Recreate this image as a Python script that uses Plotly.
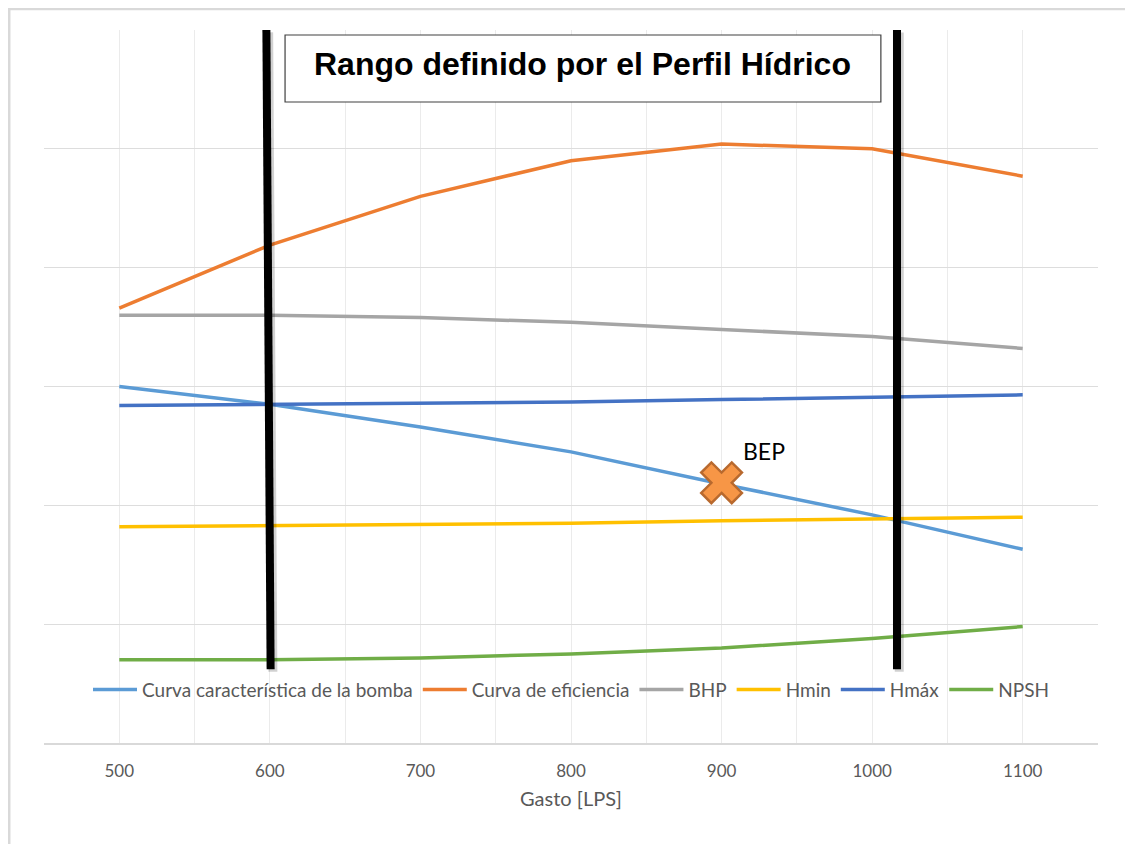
import plotly.graph_objects as go

# Datos
gasto = [500, 600, 700, 800, 900, 1000, 1100]
curva_bomba = [3.00, 2.85, 2.66, 2.45, 2.18, 1.92, 1.63]
curva_eficiencia = [3.66, 4.19, 4.60, 4.90, 5.04, 5.00, 4.77]
bhp = [3.60, 3.60, 3.58, 3.54, 3.48, 3.42, 3.32]
hmin = [1.82, 1.83, 1.84, 1.85, 1.87, 1.885, 1.90]
hmax = [2.84, 2.85, 2.86, 2.87, 2.89, 2.91, 2.93]
npsh = [0.70, 0.70, 0.715, 0.75, 0.80, 0.88, 0.98]

bep_x = [900]
bep_y = [2.19]

# límites del perfil hídrico (líneas negras)
rango_izq_x = [597.7, 600.5]
rango_der_x = [1016.5, 1016.5]
rango_y = [6.0, 0.62]

series = [
    ("Curva característica de la bomba", curva_bomba, "#5B9BD5"),
    ("Curva de eficiencia", curva_eficiencia, "#ED7D31"),
    ("BHP", bhp, "#A5A5A5"),
    ("Hmin", hmin, "#FFC000"),
    ("Hmáx", hmax, "#4472C4"),
    ("NPSH", npsh, "#70AD47"),
]

FONT = "Lato, 'Open Sans', sans-serif"

fig = go.Figure()

for name, vals, color in series:
    fig.add_trace(go.Scatter(
        x=gasto, y=vals, mode="lines", name=name,
        line=dict(color=color, width=3.5)))

for xs in (rango_izq_x, rango_der_x):
    fig.add_trace(go.Scatter(
        x=[x + 1.5 for x in xs], y=[y - 0.02 for y in rango_y], mode="lines",
        line=dict(color="rgba(0,0,0,0.18)", width=9),
        showlegend=False, hoverinfo="skip"))
    fig.add_trace(go.Scatter(
        x=xs, y=rango_y, mode="lines",
        line=dict(color="black", width=8),
        showlegend=False, hoverinfo="skip"))

fig.add_trace(go.Scatter(
    x=bep_x, y=bep_y, mode="markers", showlegend=False,
    marker=dict(symbol="x", size=36, color="#F79646",
                line=dict(color="#B8692E", width=2.5))))

fig.add_annotation(
    x=bep_x[0], y=bep_y[0], text="BEP", showarrow=False,
    xanchor="left", yanchor="bottom", xshift=19, yshift=16,
    font=dict(family=FONT, size=23, color="black"))

# recuadro del título
fig.add_shape(type="rect", xref="paper", yref="paper",
              x0=0.2287, x1=0.794, y0=0.899, y1=0.993,
              line=dict(color="#404040", width=1.2), fillcolor="white")
fig.add_annotation(
    xref="paper", yref="paper", x=0.511, y=0.952,
    xanchor="center", yanchor="middle",
    text="<b>Rango definido por el Perfil Hídrico</b>", showarrow=False,
    font=dict(family="Liberation Sans, Arial, sans-serif", size=32,
              color="black"))

# borde exterior
fig.add_shape(type="rect", xref="paper", yref="paper",
              x0=-0.033, x1=1.05, y0=-0.2, y1=1.0295,
              line=dict(color="#D9D9D9", width=2.5), layer="below")

fig.update_layout(
    width=1125, height=836,
    plot_bgcolor="white", paper_bgcolor="white",
    font=dict(family=FONT, color="#595959"),
    margin=dict(l=36, r=35, t=22, b=101),
    showlegend=True,
    legend=dict(orientation="h", x=0.5, xanchor="center", y=0.075,
                yanchor="middle", font=dict(size=19, color="#595959"),
                bgcolor="rgba(0,0,0,0)", itemwidth=44),
    xaxis=dict(
        range=[450, 1150], tick0=500, dtick=100, showgrid=True,
        gridcolor="#EBEBEB", gridwidth=1,
        minor=dict(dtick=50, showgrid=True, gridcolor="#EBEBEB"),
        showline=True, linecolor="#D9D9D9", linewidth=1.5, zeroline=False,
        ticks="", ticklabelstandoff=12,
        tickfont=dict(size=17, color="#595959"),
        title=dict(text="Gasto [LPS]", font=dict(size=20, color="#595959"),
                   standoff=12)),
    yaxis=dict(
        range=[0, 6], dtick=1, showgrid=True, gridcolor="#DDDDDD",
        gridwidth=1.2, showticklabels=False, zeroline=False, ticks=""),
)

fig.write_html("out.html")
